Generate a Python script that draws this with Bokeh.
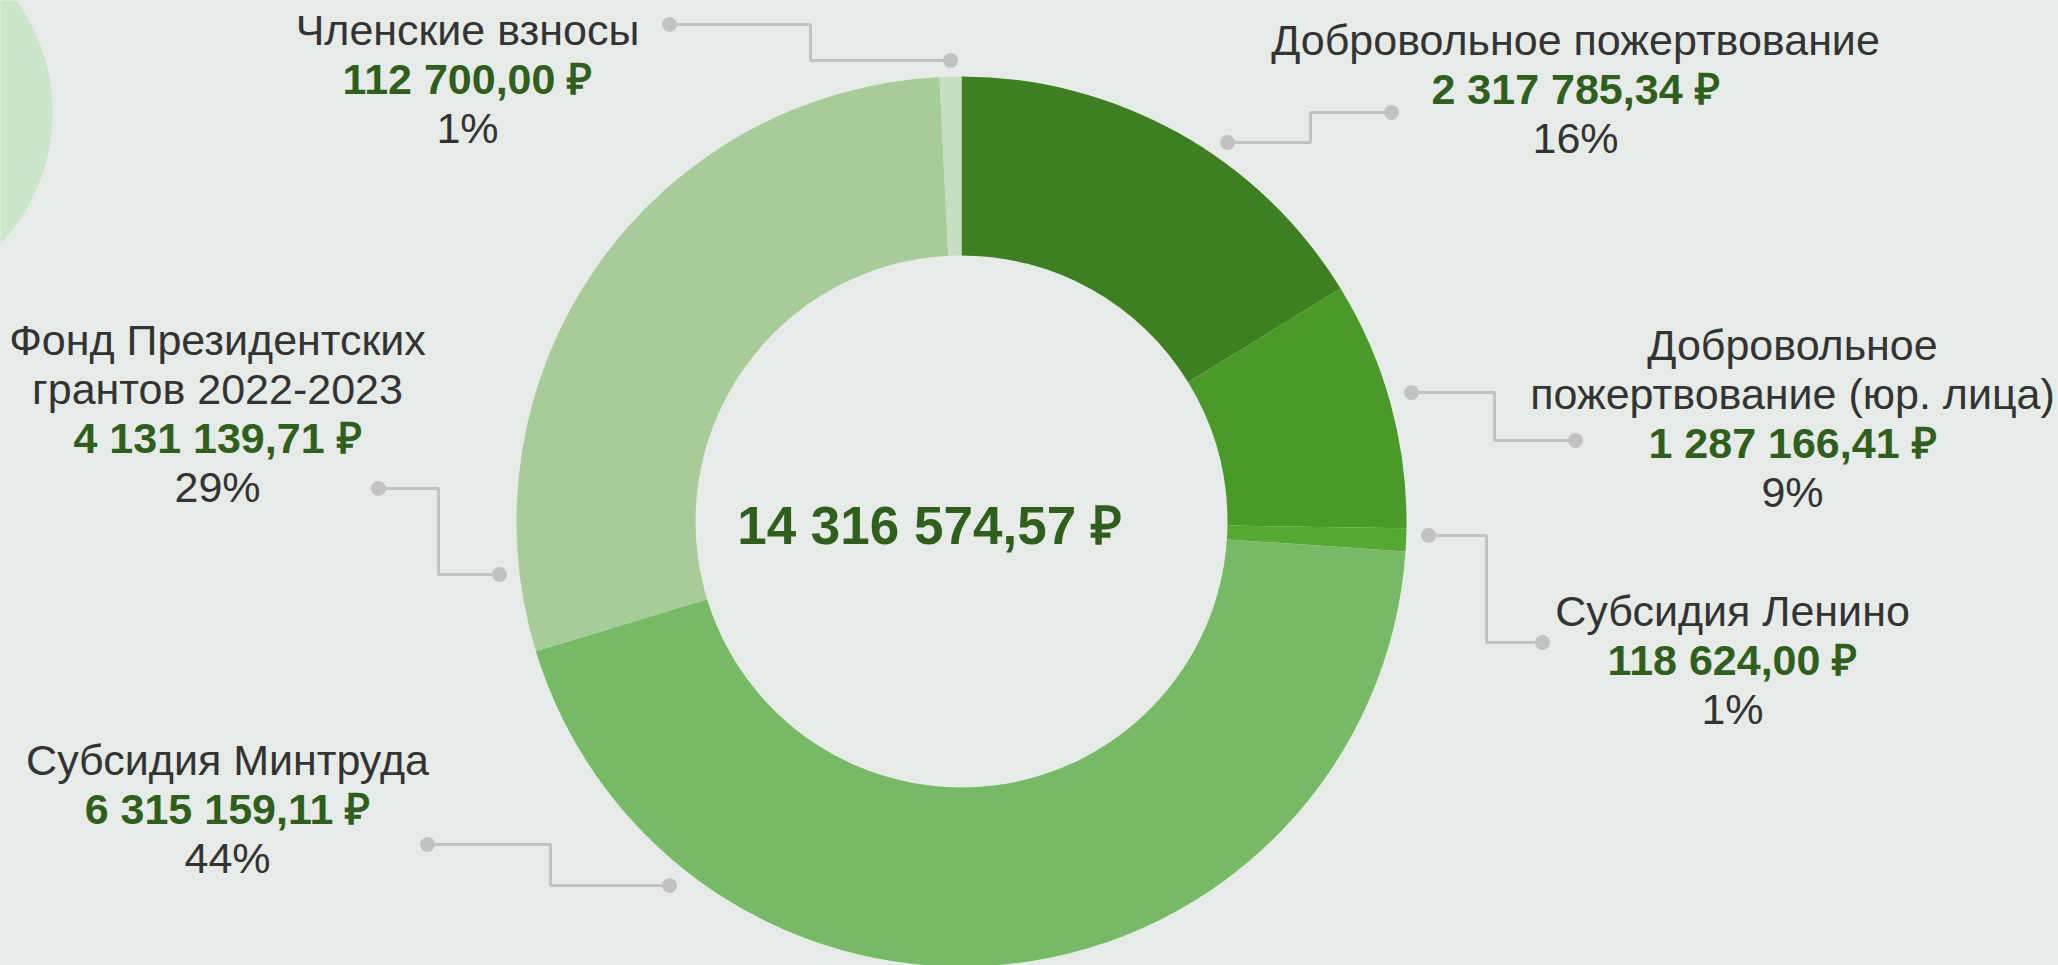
import math
from bokeh.plotting import figure
from bokeh.models import Range1d
from bokeh.embed import file_html
from bokeh.resources import INLINE
from bokeh.core.properties import value

# ---------------- data ----------------
categories = [
    "Добровольное пожертвование",
    "Добровольное пожертвование (юр. лица)",
    "Субсидия Ленино",
    "Субсидия Минтруда",
    "Фонд Президентских грантов 2022-2023",
    "Членские взносы",
]
amounts = [2317785.34, 1287166.41, 118624.00, 6315159.11, 4131139.71, 112700.00]
percents = [16, 9, 1, 44, 29, 1]
total_label = "14 316 574,57 ₽"
name_lines = [
    ["Добровольное пожертвование"],
    ["Добровольное", "пожертвование (юр. лица)"],
    ["Субсидия Ленино"],
    ["Субсидия Минтруда"],
    ["Фонд Президентских", "грантов 2022-2023"],
    ["Членские взносы"],
]

# ---------------- styles / layout ----------------
colors = ["#3e7f21", "#4a9a2a", "#54aa30", "#77ba65", "#a6cd98", "#c4dfc1"]
BG = "#e6ebe7"
TEXT = "#333333"
VALUE_GREEN = "#2e5f1b"
GREY = "#c2c2c2"
FONT = value("Liberation Sans")
W, H = 2058, 965

CX, CY = 961, -521
R_OUT, R_IN = 445, 266

# label block: (center x, y of first line)
label_layout = [
    (1575, -39),
    (1792, -344),
    (1732, -610),
    (227, -759),
    (217, -339),
    (467, -29),
]
LINE_H = 49

# connector polylines (outer dot -> elbow -> elbow -> dot near ring)
connectors = [
    [(1391, -112), (1310, -112), (1310, -142), (1227, -142)],
    [(1575, -440), (1494, -440), (1494, -392), (1411, -392)],
    [(1542, -642), (1486, -642), (1486, -535), (1428, -535)],
    [(427, -844), (550, -844), (550, -885), (669, -885)],
    [(378, -488), (438, -488), (438, -574), (499, -574)],
    [(669, -24), (810, -24), (810, -60), (950, -60)],
]


def fmt_rub(v):
    whole, frac = f"{v:.2f}".split(".")
    groups = []
    while len(whole) > 3:
        groups.insert(0, whole[-3:])
        whole = whole[:-3]
    groups.insert(0, whole)
    return " ".join(groups) + "," + frac + " ₽"


p = figure(width=W, height=H, output_backend="svg", toolbar_location=None,
           x_range=Range1d(0, W), y_range=Range1d(-H, 0),
           x_axis_location=None, y_axis_location=None, min_border=0)
p.grid.visible = False
p.outline_line_color = None
p.background_fill_color = BG
p.border_fill_color = BG

# decorative circle top-left
p.circle(x=[-140], y=[-112], radius=192, fill_color="#c9e6cb", line_color=None)

# donut
total = sum(amounts)
cum = 0.0
starts, ends = [], []
for a in amounts:
    starts.append(math.pi / 2 - 2 * math.pi * cum / total)
    cum += a
    ends.append(math.pi / 2 - 2 * math.pi * cum / total)
p.annular_wedge(x=[CX] * len(amounts), y=[CY] * len(amounts),
                inner_radius=R_IN, outer_radius=R_OUT,
                start_angle=starts, end_angle=ends, direction="clock",
                fill_color=colors, line_color=None)

# connectors
p.multi_line(xs=[[pt[0] for pt in c] for c in connectors],
             ys=[[pt[1] for pt in c] for c in connectors],
             line_color=GREY, line_width=3)
dx, dy = [], []
for c in connectors:
    dx += [c[0][0], c[-1][0]]
    dy += [c[0][1], c[-1][1]]
p.scatter(x=dx, y=dy, size=15, fill_color=GREY, line_color=None)

# labels
for i, lines in enumerate(name_lines):
    lx, ly = label_layout[i]
    p.text(x=[lx] * len(lines), y=[ly - k * LINE_H for k in range(len(lines))], text=lines,
           text_align="center", text_baseline="middle", text_font=FONT,
           text_font_size="43px", text_color=TEXT)
    y = ly - len(lines) * LINE_H
    p.text(x=[lx], y=[y], text=[fmt_rub(amounts[i])], text_align="center",
           text_baseline="middle", text_font=FONT, text_font_size="43px",
           text_font_style="bold", text_color=VALUE_GREEN)
    p.text(x=[lx], y=[y - LINE_H], text=[f"{percents[i]}%"], text_align="center",
           text_baseline="middle", text_font=FONT, text_font_size="43px",
           text_color=TEXT)

# center total
p.text(x=[929], y=[-525], text=[total_label], text_align="center", text_baseline="middle",
       text_font=FONT, text_font_size="53px", text_font_style="bold", text_color=VALUE_GREEN)

html = file_html(p, INLINE)
html = html.replace("</head>", "<style>html,body{background-color:%s;overflow:hidden;}</style></head>" % BG, 1)
open("out.html", "w").write(html)
